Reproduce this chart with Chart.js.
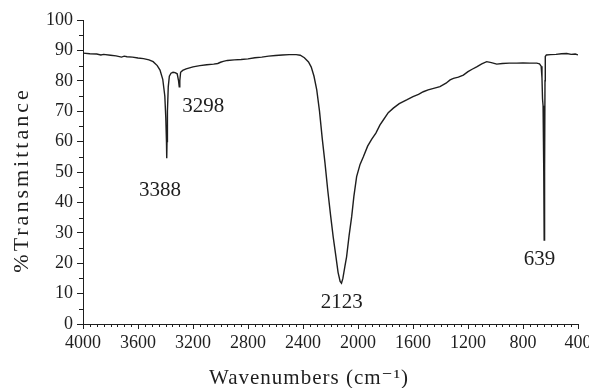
<!DOCTYPE html>
<html>
<head>
<meta charset="utf-8">
<script src="https://cdn.jsdelivr.net/npm/chart.js@4.4.1/dist/chart.umd.min.js"></script>
<style>
  html, body { margin: 0; padding: 0; background: #fff; }
  #wrap { width: 589px; height: 388px; }
</style>
</head>
<body>
<div id="wrap"><canvas id="irChart" width="589" height="388"></canvas></div>
<script>
// IR spectrum (wavenumber in cm-1, %T)
const wavenumbers = [
    4000, 3950, 3900, 3870, 3850, 3800, 3760, 3720, 3700, 3680, 3640, 3600, 3560, 3520, 3490,
    3460, 3440, 3420, 3405, 3398, 3393, 3391, 3389, 3386, 3380, 3372, 3360, 3345, 3330, 3315,
    3305, 3300, 3296, 3290, 3275, 3250, 3200, 3150, 3100, 3050, 3020, 3000, 2980, 2950, 2900,
    2850, 2800, 2750, 2700, 2650, 2600, 2550, 2500, 2450, 2420, 2390, 2360, 2340, 2320, 2300,
    2280, 2260, 2240, 2220, 2200, 2180, 2160, 2145, 2130, 2120, 2110, 2095, 2083, 2065, 2046,
    2030, 2010, 1985, 1961, 1930, 1900, 1870, 1840, 1816, 1780, 1743, 1700, 1646, 1600, 1560,
    1525, 1490, 1450, 1404, 1360, 1330, 1306, 1270, 1234, 1200, 1170, 1137, 1100, 1064, 1030,
    991, 950, 900, 846, 800, 750, 700, 680, 668, 662, 658, 654, 650, 648, 646,
    644, 642, 640, 638, 630, 600, 560, 520, 482, 450, 420, 400
];
const transmittance = [
    89.1, 88.9, 88.8, 88.5, 88.7, 88.4, 88.2, 87.8, 88.1, 87.9, 87.8, 87.5, 87.3, 86.9, 86.3,
    85.0, 83.5, 80.5, 75.0, 68.0, 60.0, 54.5, 60.0, 70.0, 78.0, 81.5, 82.5, 82.8, 82.7, 82.3,
    80.0, 78.0, 80.0, 82.8, 83.4, 83.9, 84.6, 85.0, 85.3, 85.5, 85.7, 86.1, 86.4, 86.7, 86.9,
    87.0, 87.2, 87.6, 87.8, 88.1, 88.3, 88.5, 88.6, 88.6, 88.4, 87.6, 86.2, 84.5, 81.5, 77.0,
    70.0, 61.0, 52.9, 44.0, 36.0, 28.5, 22.0, 17.0, 14.0, 13.4, 15.0, 19.0, 22.1, 29.0, 35.3,
    42.0, 48.5, 52.5, 55.0, 58.5, 60.8, 62.8, 65.5, 67.1, 69.5, 71.0, 72.5, 73.7, 74.8, 75.5,
    76.4, 77.0, 77.5, 78.1, 79.2, 80.3, 80.8, 81.2, 81.9, 83.0, 83.8, 84.6, 85.6, 86.3, 86.0,
    85.5, 85.7, 85.8, 85.8, 85.9, 85.8, 85.8, 85.6, 84.8, 81.0, 74.0, 71.8, 71.5, 50.0, 27.6,
    27.6, 50.0, 80.0, 88.0, 88.5, 88.6, 88.7, 88.9, 89.0, 88.7, 88.8, 88.5
];

// peak labels and where their text sits (data coordinates)
const peakLabels = ['3388', '3298', '2123', '639'];
const peakLabelX = [3440, 3125, 2119, 680];
const peakLabelY = [43.8, 71.5, 7.0, 21.3];

const xTitle = 'Wavenumbers (cm\u207B\u00B9)';
const yTitle = '%Transmittance';

const serif = "'Liberation Serif', 'DejaVu Serif', serif";
const ink = '#1e1e1e';

// 작은 눈금 + 피크 번호 + 축 제목
const extrasPlugin = {
    id: 'extras',
    afterDraw(chart) {
        const ctx = chart.ctx;
        const xs = chart.scales.x, ys = chart.scales.y;
        const area = chart.chartArea;
        ctx.save();
        ctx.strokeStyle = ink;
        ctx.lineWidth = 1;
        ctx.beginPath();
        for (let w = 450; w < 4000; w += 50) {
            if (w % 400 === 0) continue;
            const px = Math.round(xs.getPixelForValue(w)) + 0.5;
            ctx.moveTo(px, area.bottom);
            ctx.lineTo(px, area.bottom + 3);
        }
        for (let v = 5; v < 100; v += 10) {
            const py = Math.round(ys.getPixelForValue(v)) + 0.5;
            ctx.moveTo(area.left, py);
            ctx.lineTo(area.left - 4, py);
        }
        ctx.stroke();

        ctx.fillStyle = ink;
        ctx.textAlign = 'center';
        ctx.textBaseline = 'middle';
        ctx.font = '21px ' + serif;
        peakLabels.forEach((t, i) => {
            ctx.fillText(t, xs.getPixelForValue(peakLabelX[i]), ys.getPixelForValue(peakLabelY[i]));
        });

        ctx.font = '21px ' + serif;
        ctx.letterSpacing = '1px';
        ctx.fillText(xTitle, 309, 378);
        ctx.translate(22, 180);
        ctx.rotate(-Math.PI / 2);
        ctx.font = '22px ' + serif;
        ctx.letterSpacing = '3px';
        ctx.fillText(yTitle, 0, 0);
        ctx.restore();
    }
};

document.addEventListener('DOMContentLoaded', () => {
    const points = wavenumbers.map((w, i) => ({ x: w, y: transmittance[i] }));
    new Chart(document.getElementById('irChart'), {
        type: 'line',
        data: {
            datasets: [{
                data: points,
                borderColor: ink,
                borderWidth: 1.4,
                pointRadius: 0,
                tension: 0,
                fill: false
            }]
        },
        options: {
            responsive: false,
            devicePixelRatio: 1,
            animation: false,
            layout: { padding: { top: 20, right: 11, left: 0, bottom: 0 } },
            plugins: { legend: { display: false }, tooltip: { enabled: false } },
            scales: {
                x: {
                    type: 'linear',
                    reverse: true,
                    min: 400,
                    max: 4000,
                    ticks: { stepSize: 400, color: ink, padding: 3, maxRotation: 0, font: { family: serif, size: 18 }, callback: v => String(v) },
                    grid: { drawOnChartArea: false, drawTicks: true, tickLength: 5, color: ink },
                    border: { color: ink, width: 1 },
                    afterFit(scale) { scale.height = 64; scale.paddingLeft = 0; scale.paddingRight = 0; }
                },
                y: {
                    min: 0,
                    max: 100,
                    ticks: { stepSize: 10, color: ink, padding: 4, font: { family: serif, size: 18 } },
                    grid: { drawOnChartArea: false, drawTicks: true, tickLength: 6, color: ink },
                    border: { color: ink, width: 1 },
                    afterFit(scale) { scale.width = 83; scale.paddingTop = 0; scale.paddingBottom = 0; }
                }
            }
        },
        plugins: [extrasPlugin]
    });
});
</script>
</body>
</html>
